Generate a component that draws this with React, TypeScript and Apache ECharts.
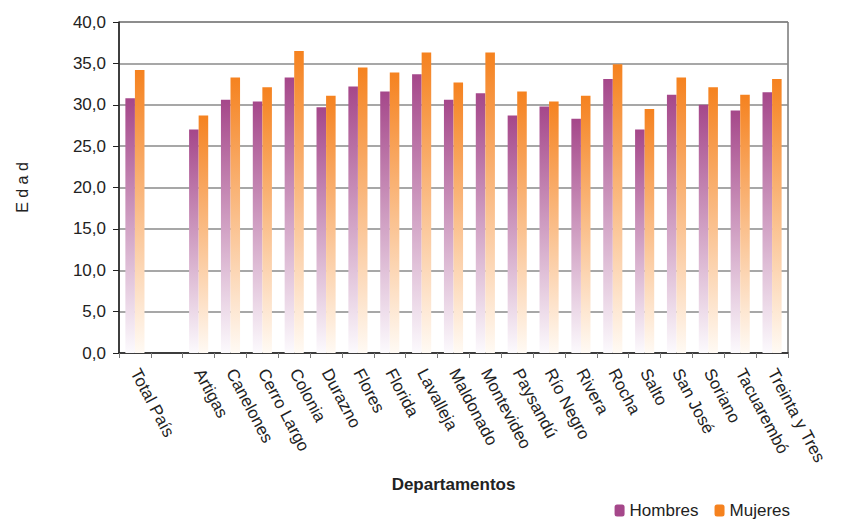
import React, { useEffect, useRef } from "react";
import * as echarts from "echarts";

const categories = [
  "Total País", "", "Artigas", "Canelones", "Cerro Largo", "Colonia", "Durazno", "Flores",
  "Florida", "Lavalleja", "Maldonado", "Montevideo", "Paysandú", "Río Negro", "Rivera",
  "Rocha", "Salto", "San José", "Soriano", "Tacuarembó", "Treinta y Tres",
];
const hombres: (number | null)[] = [
  30.8, null, 27.0, 30.6, 30.4, 33.3, 29.7, 32.2, 31.6, 33.7, 30.6, 31.4, 28.7, 29.8, 28.3,
  33.1, 27.0, 31.2, 30.0, 29.3, 31.5,
];
const mujeres: (number | null)[] = [
  34.2, null, 28.7, 33.3, 32.1, 36.5, 31.1, 34.5, 33.9, 36.3, 32.7, 36.3, 31.6, 30.4, 31.1,
  34.9, 29.5, 33.3, 32.1, 31.2, 33.1,
];
const yTicks = [0, 5, 10, 15, 20, 25, 30, 35, 40];

const FONT = "Liberation Sans, Arial, sans-serif";
const PURPLE = "#A5478A";
const ORANGE = "#F5821F";

export default function App() {
  const ref = useRef<HTMLDivElement>(null);
  useEffect(() => {
    if (!ref.current) return;
    const chart = echarts.init(ref.current, undefined, { renderer: "svg" });
    const grad = (top: string, bottom: string) =>
      new echarts.graphic.LinearGradient(0, 0, 0, 1, [
        { offset: 0, color: top },
        { offset: 1, color: bottom },
      ]);
    chart.setOption({
      animation: false,
      backgroundColor: "#fff",
      textStyle: { fontFamily: FONT },
      grid: {
        left: 119, right: 53, top: 22, bottom: 176,
        show: true, borderColor: "#333", borderWidth: 1,
      },
      legend: {
        right: 46, bottom: 5, itemWidth: 10, itemHeight: 12, itemGap: 16,
        textStyle: { fontFamily: FONT, fontSize: 17, color: "#222" },
        data: [
          { name: "Hombres", itemStyle: { color: PURPLE } },
          { name: "Mujeres", itemStyle: { color: ORANGE } },
        ],
      },
      xAxis: {
        type: "category",
        data: categories,
        name: "Departamentos",
        nameLocation: "middle",
        nameGap: 123,
        nameTextStyle: { fontFamily: FONT, fontSize: 17, fontWeight: "bold", color: "#222" },
        axisLine: { show: true, lineStyle: { color: "#222", width: 1.5 } },
        axisTick: { show: true, length: 5, lineStyle: { color: "#777" } },
        axisLabel: {
          rotate: -62, interval: 0, fontSize: 17, color: "#222", fontFamily: FONT, margin: 17,
        },
      },
      yAxis: {
        type: "value",
        min: 0, max: 40, interval: 5,
        name: "E d a d",
        nameLocation: "middle",
        nameRotate: 90,
        nameGap: 89,
        nameTextStyle: { fontFamily: FONT, fontSize: 16, color: "#222" },
        axisLine: { show: true, lineStyle: { color: "#222", width: 1.5 } },
        axisTick: { show: true, length: 6, lineStyle: { color: "#222" } },
        axisLabel: {
          fontSize: 17, color: "#222", fontFamily: FONT, margin: 13,
          formatter: (v: number) => (yTicks.includes(v) ? v.toFixed(1).replace(".", ",") : ""),
        },
        splitLine: { show: true, lineStyle: { color: "#8a8a8a", width: 1.5 } },
      },
      series: [
        {
          name: "Hombres", type: "bar", data: hombres, barGap: "0%", barCategoryGap: "40%",
          itemStyle: { color: grad(PURPLE, "#FCFAFD") },
        },
        {
          name: "Mujeres", type: "bar", data: mujeres, barGap: "0%", barCategoryGap: "40%",
          itemStyle: { color: grad(ORANGE, "#FFFAF4") },
        },
      ],
    });
    return () => chart.dispose();
  }, []);
  return <div ref={ref} style={{ width: 841, height: 529, margin: -8 }} />;
}
